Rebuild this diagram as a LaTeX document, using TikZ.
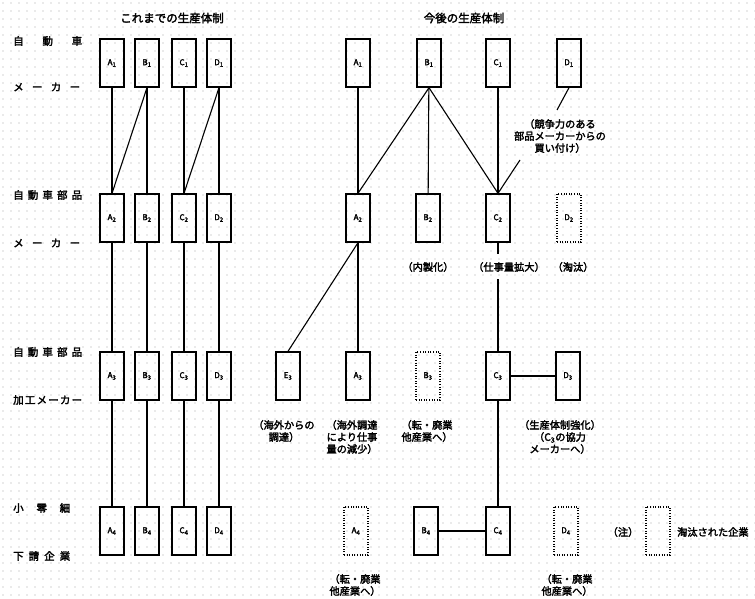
\documentclass[tikz,border=0pt]{standalone}
\usepackage{fontspec}
\newfontfamily\cjk{Noto Sans CJK JP}[FakeBold=2.5]
\begin{document}
\begin{tikzpicture}[x=1pt,y=-1pt,
  box/.style={draw, line width=1.4pt, minimum width=24pt, minimum height=48pt, inner sep=0pt, font=\cjk\fontsize{8}{8}\selectfont},
  gone/.style={box, line width=1.1pt, dash pattern=on 1pt off 1.6pt},
  conn/.style={line width=1.1pt},
  note/.style={font=\cjk\fontsize{10.2}{12}\selectfont, align=center, inner sep=0pt},
  head/.style={font=\cjk\fontsize{11.5}{12}\selectfont, inner sep=0pt},
  rowlab/.style={font=\cjk\fontsize{10.5}{12}\selectfont, anchor=west, inner sep=0pt}]
\useasboundingbox (0,0) rectangle (755,599);
% dotted paper grid
\foreach \x in {3,11,...,755} \foreach \y in {3,11,...,599} \fill[black!35] (\x,\y) circle (0.6pt);

% headers
\node[head] (h1) at (172,18) {これまでの生産体制};
\node[head] (h2) at (464,18) {今後の生産体制};

% row labels
\node[rowlab] (r1a) at (13,41) {\makebox[69pt]{自\hfill 動\hfill 車}};
\node[rowlab] (r1b) at (13,87) {\makebox[67pt]{メ\hfill ー\hfill カ\hfill ー}};
\node[rowlab] (r2a) at (13,195) {\makebox[69pt]{自\hfill 動\hfill 車\hfill 部\hfill 品}};
\node[rowlab] (r2b) at (13,243) {\makebox[67pt]{メ\hfill ー\hfill カ\hfill ー}};
\node[rowlab] (r3a) at (13,352) {\makebox[69pt]{自\hfill 動\hfill 車\hfill 部\hfill 品}};
\node[rowlab] (r3b) at (13,400) {\makebox[69pt]{加\hfill 工\hfill メ\hfill ー\hfill カ\hfill ー}};
\node[rowlab] (r4a) at (13,508) {\makebox[57pt]{小\hfill 零\hfill 細}};
\node[rowlab] (r4b) at (13,556) {\makebox[57pt]{下\hfill 請\hfill 企\hfill 業}};

% left boxes
\foreach \c/\x in {A/112,B/147,C/184,D/219}{
  \node[box] (L\c1) at (\x,63) {\c\textsubscript{1}};
  \node[box] (L\c2) at (\x,218) {\c\textsubscript{2}};
  \node[box] (L\c3) at (\x,376) {\c\textsubscript{3}};
  \node[box] (L\c4) at (\x,531) {\c\textsubscript{4}};
}

% right boxes
\node[box] (RA1) at (358,63) {A\textsubscript{1}};
\node[box] (RB1) at (429,63) {B\textsubscript{1}};
\node[box] (RC1) at (498,63) {C\textsubscript{1}};
\node[box] (RD1) at (569,63) {D\textsubscript{1}};
\node[box] (RA2) at (358,218) {A\textsubscript{2}};
\node[box] (RB2) at (428,218) {B\textsubscript{2}};
\node[box] (RC2) at (498,218) {C\textsubscript{2}};
\node[gone] (RD2) at (569,218) {D\textsubscript{2}};
\node[box] (E3) at (288,376) {E\textsubscript{3}};
\node[box] (RA3) at (358,376) {A\textsubscript{3}};
\node[gone] (RB3) at (428,376) {B\textsubscript{3}};
\node[box] (RC3) at (498,376) {C\textsubscript{3}};
\node[box] (RD3) at (568,376) {D\textsubscript{3}};
\node[gone] (RA4) at (356,531) {A\textsubscript{4}};
\node[box] (RB4) at (426,531) {B\textsubscript{4}};
\node[box] (RC4) at (498,531) {C\textsubscript{4}};
\node[gone] (RD4) at (566,531) {D\textsubscript{4}};
\node[gone] (leg) at (658,531) {};

% left connectors
\foreach \c in {A,B,C,D}{
  \draw[conn] (L\c1) -- (L\c2);
  \draw[conn] (L\c2) -- (L\c3);
  \draw[conn] (L\c3) -- (L\c4);
}
\draw[conn] (LB1.south) -- (LA2.north);
\draw[conn] (LD1.south) -- (LC2.north);

% annotations
\node[note] (buy) at (560,136) {（競争力のある\\部品メーカーからの\\買い付け）};
\coordinate (d1e) at (557,110);
\coordinate (c2s) at (520,160);
\node[note] (naisei) at (428,267) {（内製化）};
\node[note] (kakudai) at (509,267) {（仕事量拡大）};
\node[note] (touta) at (573,267) {（淘汰）};
\coordinate (c2stub) at (498,254);
\coordinate (c3stub) at (498,279);
\node[note] (e3n) at (284,431) {（海外からの\\調達）};
\node[note] (a3n) at (352,437) {（海外調達\\により仕事\\量の減少）};
\node[note] (b3n) at (427,431) {（転・廃業\\他産業へ）};
\node[note] (d3n) at (560,437) {（生産体制強化）\\（C\textsubscript{3}の協力\\メーカーへ）};
\node[note] (a4n) at (355,585) {（転・廃業\\他産業へ）};
\node[note] (d4n) at (567,585) {（転・廃業\\他産業へ）};
\node[note] (chu) at (623,532) {（注）};
\node[note, anchor=west] (legt) at (677,532) {淘汰された企業};

% right connectors
\draw[conn] (RA1) -- (RA2);
\draw[conn] (RB1.south) -- (RA2.north);
\draw[conn] (RB1) -- (RB2);
\draw[conn] (RB1.south) -- (RC2.north);
\draw[conn] (RC1) -- (RC2);
\draw[conn] (RD1.south) -- (d1e);
\draw[conn] (c2s) -- (RC2.north);
\draw[conn] (RA2.south) -- (E3.north);
\draw[conn] (RA2) -- (RA3);
\draw[conn] (RC2.south) -- (c2stub);
\draw[conn] (c3stub) -- (RC3.north);
\draw[conn] (RC3) -- (RD3);
\draw[conn] (RC3) -- (RC4);
\draw[conn] (RB4) -- (RC4);
\end{tikzpicture}
\end{document}
